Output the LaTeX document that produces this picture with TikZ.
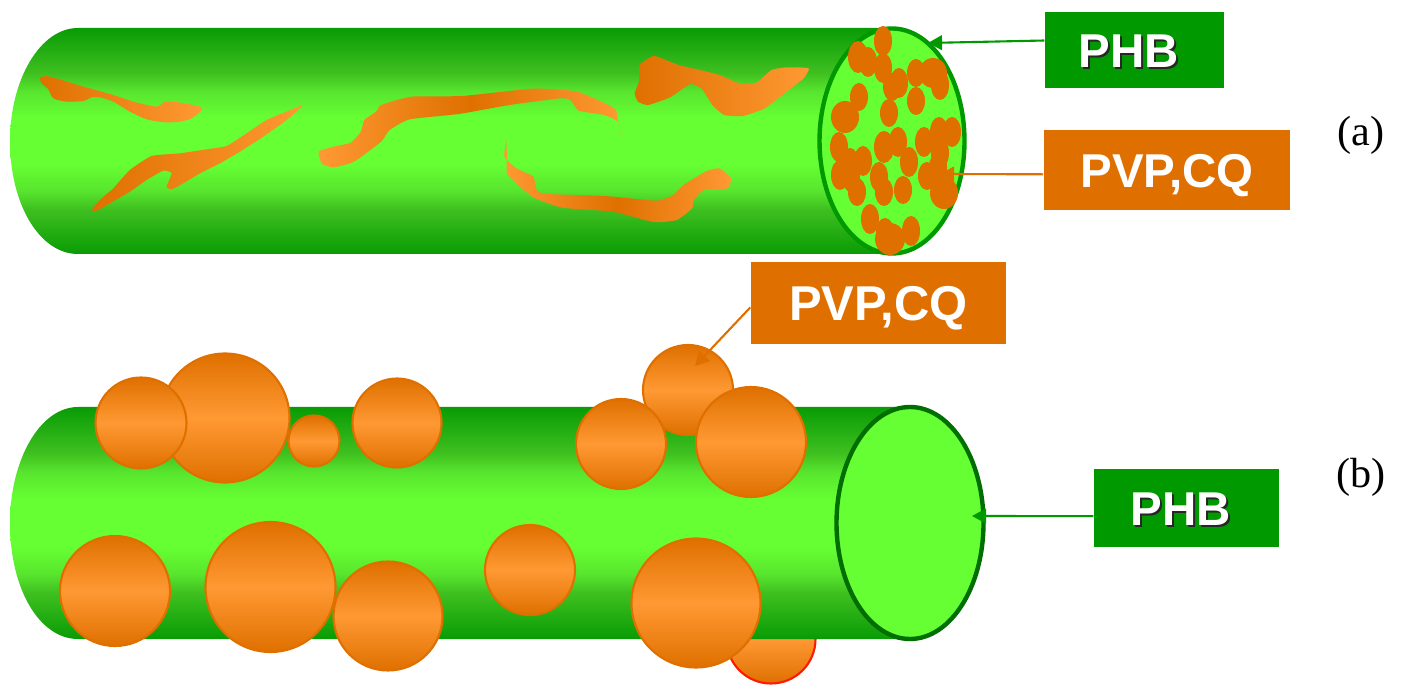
\documentclass[tikz,border=0pt]{standalone}
\usepackage{fontspec}
\setmainfont{Liberation Serif}
\setsansfont{Liberation Sans}
\usetikzlibrary{arrows.meta}
\definecolor{tubedark}{HTML}{099B05}
\definecolor{tubemid}{HTML}{3FC020}
\definecolor{tubesoft}{HTML}{58E52E}
\definecolor{tubelight}{HTML}{66FF33}
\definecolor{boxgreen}{HTML}{009900}
\definecolor{rimgreen}{HTML}{006E00}
\definecolor{ballorange}{HTML}{FF9933}
\definecolor{boxorange}{HTML}{DF7000}
\pgfdeclareverticalshading{tubeshade}{100bp}{color(0bp)=(tubedark); color(25bp)=(tubedark); color(35bp)=(tubemid); color(39bp)=(tubesoft); color(45bp)=(tubelight); color(55bp)=(tubelight); color(61bp)=(tubesoft); color(65bp)=(tubemid); color(75bp)=(tubedark); color(100bp)=(tubedark)}
\newcommand{\shadowed}[1]{\rlap{\kern.7pt\raisebox{-.7pt}{\textcolor{black!85}{#1}}}#1\kern3.4pt}
\tikzset{
  tube/.style={shading=tubeshade},
  ball/.style={draw=boxorange,line width=.6pt,top color=boxorange,bottom color=boxorange,middle color=ballorange},
  grain/.style={fill=boxorange},
  darkblob/.style={left color=boxorange,right color=ballorange},
  midblob/.style={left color=ballorange,right color=ballorange,middle color=boxorange},
  labelbox/.style={inner sep=0pt,text=white,text height=9.7pt,text depth=0pt,font=\sffamily\bfseries\fontsize{13.5}{16}\selectfont},
  greenbox/.style={labelbox,fill=boxgreen},
  orangebox/.style={labelbox,fill=boxorange},
  greenline/.style={boxgreen,line width=.6pt,-{Triangle[length=4pt,width=4.2pt]}},
  orangeline/.style={boxorange,line width=.6pt,-{Triangle[length=4pt,width=4.2pt]}},
  sidelabel/.style={inner sep=0pt,font=\fontsize{12}{14}\selectfont}
}
\begin{document}
\begin{tikzpicture}[x=.01cm,y=-.01cm]
  \useasboundingbox (0,0) rectangle (1404,695);

  % upper fibre
  \shade[tube] (78,28) -- (892,28) -- (892,254) -- (78,254)
    .. controls (40,254) and (10,205) .. (10,141) .. controls (10,80) and (40,28) .. (78,28) -- cycle;
  \begin{scope}[shift={(0,20)},scale=.3333]
   \shade[darkblob] plot[smooth cycle,tension=.4] coordinates {(120,172) (150,170) (250,200) (340,225) (400,245) (470,260) (495,245) (540,248) (600,260) (605,270) (575,295) (540,305) (495,307) (440,298) (390,275) (340,245) (300,232) (275,232) (250,243) (200,245) (160,235) (145,208) (125,190)};
   \shade[darkblob] plot[smooth cycle,tension=.3] coordinates {(275,570) (300,540) (340,505) (390,450) (455,408) (540,400) (620,388) (680,378) (740,340) (800,300) (860,275) (910,255) (860,300) (790,350) (720,395) (660,430) (600,460) (550,490) (515,508) (500,500) (515,460) (490,452) (440,480) (390,515) (330,550) (290,572)};
  \end{scope}
  \begin{scope}[shift={(300,40)},xscale=.338,yscale=.3333]
   \shade[midblob] plot[smooth cycle,tension=.3] coordinates {(55,335) (100,320) (150,308) (180,275) (190,240) (225,215) (240,195) (330,170) (480,168) (690,146) (820,155) (930,205) (940,240) (952,300) (940,245) (900,225) (825,212) (800,180) (770,175) (620,195) (470,222) (325,238) (265,270) (240,305) (160,365) (100,382) (65,372)};
   \shade[midblob] plot[smooth cycle,tension=.3] coordinates {(610,300) (605,350) (640,385) (690,410) (700,450) (730,462) (900,468) (1055,482) (1105,465) (1135,435) (1200,395) (1240,385) (1275,415) (1265,445) (1195,450) (1165,480) (1160,505) (1115,540) (1045,546) (925,515) (775,503) (690,472) (640,430) (612,400) (612,350)};
   \shade[darkblob] plot[smooth cycle,tension=.3] coordinates {(1048,48) (1120,75) (1235,103) (1300,130) (1350,128) (1395,90) (1440,82) (1505,85) (1490,115) (1440,155) (1375,205) (1310,228) (1255,225) (1220,195) (1190,148) (1155,132) (1095,172) (1030,195) (1000,185) (990,160) (1003,125) (1005,75)};
  \end{scope}
  \draw[boxgreen,fill=tubelight,line width=1.25pt] (892,141) ellipse (72.5 and 112.5);
  \foreach \x/\y/\a/\b in {883/41/9/15,858/57/10/16,868/62/9/15,883/68/9/15,892/87/9/14,899/83/9/15,916/73/9/14,933/73/14/15,940/85/9/15,916/101/9/14,859/97/9/14,845/117/14/16,889/113/9/14,839/147/9/15,863/161/9/15,840/175/9/15,850/163/9/15,851/177/9/15,857/192/9/14,884/147/10/16,898/142/9/15,909/162/9/15,879/177/9/15,884/192/9/14,903/190/9/14,924/142/9/15,939/132/9/15,952/132/9/15,940/153/9/15,927/176/9/14,938/167/9/14,944/193/14/16,870/219/9/15,885/232/9/14,890/239/15/16,911/231/9/15} {
   \fill[grain] (\x,\y) ellipse ({\a} and {\b});
  }

  % lower fibre
  \shade[ball,draw=red!80!orange] (771,639) circle (44.5);
  \shade[tube] (78,407) -- (910,407) -- (910,639) -- (78,639)
    .. controls (40,639) and (10,590) .. (10,523) .. controls (10,460) and (40,407) .. (78,407) -- cycle;
  \draw[rimgreen,fill=tubelight,line width=1.25pt] (910,523) ellipse (73.5 and 116);
  \foreach \x/\y/\r in {225/418/64.5,141/423/45.5,314/441/25.5,397/423/44.5,688/390/45,621/444/45,751/442/55,115/591/55,270.5/587/65,388/616/54.5,530/570/45,696/603/64.5} {
   \shade[ball] (\x,\y) circle (\r);
  }

  \node[greenbox,minimum width=1.79cm,minimum height=.76cm] (phbtop) at (1134.5,50) {\shadowed{PHB}};
  \node[orangebox,minimum width=2.46cm,minimum height=.8cm] (pvptop) at (1167,170) {PVP,CQ};
  \node[orangebox,minimum width=2.55cm,minimum height=.82cm,font=\sffamily\bfseries\fontsize{13.9}{16}\selectfont] (pvpbottom) at (878.5,303) {PVP,CQ};
  \node[greenbox,minimum width=1.85cm,minimum height=.78cm] (phbbottom) at (1186.5,508) {\shadowed{PHB}};
  \node[sidelabel] (labela) at (1361,135) {(a)};
  \node[sidelabel] (labelb) at (1361,477) {(b)};

  \coordinate (sectiontip) at (928,43);
  \coordinate (graintip) at (940,174);
  \coordinate (balltip) at (695,366);
  \coordinate (endtip) at (972,516);
  \draw[greenline] (phbtop.174) -- (sectiontip);
  \draw[orangeline] (pvptop.182) -- (graintip);
  \draw[orangeline] (pvpbottom.182) -- (balltip);
  \draw[greenline] (phbbottom.185) -- (endtip);
\end{tikzpicture}
\end{document}
